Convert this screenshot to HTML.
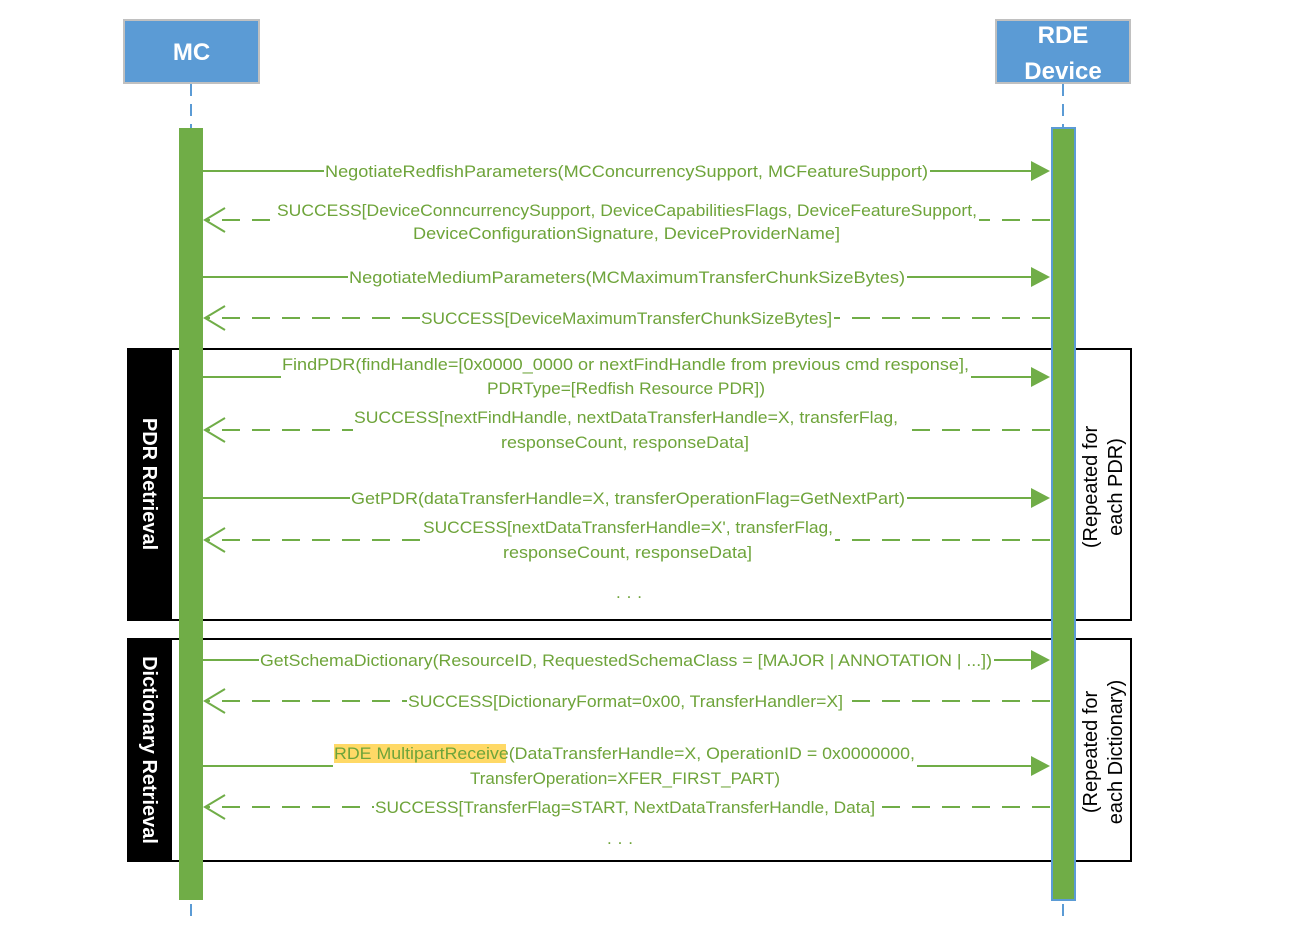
<!DOCTYPE html>
<html><head><meta charset="utf-8"><style>html,body{margin:0;padding:0;background:#fff;}svg{display:block}</style></head>
<body>
<svg width="1306" height="945" viewBox="0 0 1306 945" xmlns="http://www.w3.org/2000/svg" font-family="'Liberation Sans', sans-serif">
<!-- lifelines -->
<line x1="191" y1="84" x2="191" y2="917" stroke="#5b9bd5" stroke-width="2" stroke-dasharray="12,8"/>
<line x1="1063" y1="84" x2="1063" y2="917" stroke="#5b9bd5" stroke-width="2" stroke-dasharray="12,8"/>
<!-- headers -->
<rect x="124" y="20" width="135" height="63" fill="#5b9bd5" stroke="#c0c0c0" stroke-width="2"/>
<text x="191.5" y="60" font-size="24" font-weight="bold" fill="#fff" text-anchor="middle">MC</text>
<rect x="996" y="20" width="134" height="63" fill="#5b9bd5" stroke="#c0c0c0" stroke-width="2"/>
<text x="1063" y="43" font-size="24" font-weight="bold" fill="#fff" text-anchor="middle">RDE</text>
<text x="1063" y="79" font-size="24" font-weight="bold" fill="#fff" text-anchor="middle">Device</text>
<!-- frames -->
<rect x="128" y="349" width="1003" height="271" fill="none" stroke="#000" stroke-width="2"/>
<rect x="128" y="349" width="44" height="271" fill="#000"/>
<text transform="translate(143,484) rotate(90)" font-size="20" font-weight="bold" fill="#fff" text-anchor="middle">PDR Retrieval</text>
<rect x="128" y="639" width="1003" height="222" fill="none" stroke="#000" stroke-width="2"/>
<rect x="128" y="639" width="44" height="222" fill="#000"/>
<text transform="translate(143,750) rotate(90)" font-size="20" font-weight="bold" fill="#fff" text-anchor="middle">Dictionary Retrieval</text>
<!-- bars -->
<rect x="179" y="128" width="24" height="772" fill="#70ad47"/>
<rect x="1052" y="128" width="23" height="772" fill="#70ad47" stroke="#5b9bd5" stroke-width="2"/>
<!-- repeated labels -->
<g font-size="20" fill="#000" text-anchor="middle">
<text transform="translate(1097,487) rotate(-90)">(Repeated for</text>
<text transform="translate(1122,487) rotate(-90)">each PDR)</text>
<text transform="translate(1097,752) rotate(-90)">(Repeated for</text>
<text transform="translate(1122,752) rotate(-90)">each Dictionary)</text>
</g>
<g stroke="#70ad47" stroke-width="2" fill="none">
<!-- solid calls -->
<line x1="203" y1="171" x2="1035" y2="171"/>
<line x1="203" y1="277" x2="1035" y2="277"/>
<line x1="203" y1="377" x2="1035" y2="377"/>
<line x1="203" y1="498" x2="1035" y2="498"/>
<line x1="203" y1="660" x2="1035" y2="660"/>
<line x1="203" y1="766" x2="1035" y2="766"/>
<!-- dashed returns -->
<g stroke-dasharray="18,12">
<line x1="1050" y1="220" x2="205" y2="220"/>
<line x1="1050" y1="318" x2="205" y2="318"/>
<line x1="1050" y1="430" x2="205" y2="430"/>
<line x1="1050" y1="540" x2="205" y2="540"/>
<line x1="1050" y1="701" x2="205" y2="701"/>
<line x1="1050" y1="807" x2="205" y2="807"/>
</g>
<!-- open arrowheads -->
<polyline points="225,208 205,220 225,232"/>
<polyline points="225,306 205,318 225,330"/>
<polyline points="225,418 205,430 225,442"/>
<polyline points="225,528 205,540 225,552"/>
<polyline points="225,689 205,701 225,713"/>
<polyline points="225,795 205,807 225,819"/>
</g>
<g fill="#70ad47">
<polygon points="1031,161 1050,171 1031,181"/>
<polygon points="1031,267 1050,277 1031,287"/>
<polygon points="1031,367 1050,377 1031,387"/>
<polygon points="1031,488 1050,498 1031,508"/>
<polygon points="1031,650 1050,660 1031,670"/>
<polygon points="1031,756 1050,766 1031,776"/>
</g>
<!-- label backgrounds -->
<g fill="#fff">
<rect x="324" y="160" width="606" height="22"/>
<rect x="276" y="198" width="703" height="47"/>
<rect x="348" y="266" width="559" height="22"/>
<rect x="420" y="307" width="414" height="22"/>
<rect x="281" y="352" width="690" height="47"/>
<rect x="353" y="405" width="547" height="48"/>
<rect x="350" y="487" width="557" height="22"/>
<rect x="422" y="515" width="413" height="48"/>
<rect x="259" y="648" width="735" height="24"/>
<rect x="407" y="690" width="438" height="22"/>
<rect x="333" y="741" width="584" height="50"/>
<rect x="374" y="796" width="503" height="22"/>
</g>
<rect x="334" y="744" width="172" height="19" fill="#ffd966"/>
<g font-size="17" fill="#6ea43a" lengthAdjust="spacingAndGlyphs">
<text x="325" y="177" textLength="603" lengthAdjust="spacingAndGlyphs">NegotiateRedfishParameters(MCConcurrencySupport, MCFeatureSupport)</text>
<text x="277" y="216" textLength="700" lengthAdjust="spacingAndGlyphs">SUCCESS[DeviceConncurrencySupport, DeviceCapabilitiesFlags, DeviceFeatureSupport,</text>
<text x="413" y="239" textLength="427" lengthAdjust="spacingAndGlyphs">DeviceConfigurationSignature, DeviceProviderName]</text>
<text x="349" y="283" textLength="556" lengthAdjust="spacingAndGlyphs">NegotiateMediumParameters(MCMaximumTransferChunkSizeBytes)</text>
<text x="421" y="324" textLength="411" lengthAdjust="spacingAndGlyphs">SUCCESS[DeviceMaximumTransferChunkSizeBytes]</text>
<text x="282" y="370" textLength="687" lengthAdjust="spacingAndGlyphs">FindPDR(findHandle=[0x0000_0000 or nextFindHandle from previous cmd response],</text>
<text x="487" y="394" textLength="278" lengthAdjust="spacingAndGlyphs">PDRType=[Redfish Resource PDR])</text>
<text x="354" y="423" textLength="544" lengthAdjust="spacingAndGlyphs">SUCCESS[nextFindHandle, nextDataTransferHandle=X, transferFlag,</text>
<text x="501" y="448" textLength="248" lengthAdjust="spacingAndGlyphs">responseCount, responseData]</text>
<text x="351" y="504" textLength="554" lengthAdjust="spacingAndGlyphs">GetPDR(dataTransferHandle=X, transferOperationFlag=GetNextPart)</text>
<text x="423" y="533" textLength="410" lengthAdjust="spacingAndGlyphs">SUCCESS[nextDataTransferHandle=X', transferFlag,</text>
<text x="503" y="558" textLength="249" lengthAdjust="spacingAndGlyphs">responseCount, responseData]</text>
<text x="616" y="598" textLength="26" lengthAdjust="spacing">...</text>
<text x="260" y="666" textLength="732" lengthAdjust="spacingAndGlyphs">GetSchemaDictionary(ResourceID, RequestedSchemaClass = [MAJOR | ANNOTATION | ...])</text>
<text x="408" y="707" textLength="435" lengthAdjust="spacingAndGlyphs">SUCCESS[DictionaryFormat=0x00, TransferHandler=X]</text>
<text x="334" y="759" textLength="581" lengthAdjust="spacingAndGlyphs">RDE MultipartReceive(DataTransferHandle=X, OperationID = 0x0000000,</text>
<text x="470" y="784" textLength="310" lengthAdjust="spacingAndGlyphs">TransferOperation=XFER_FIRST_PART)</text>
<text x="375" y="813" textLength="500" lengthAdjust="spacingAndGlyphs">SUCCESS[TransferFlag=START, NextDataTransferHandle, Data]</text>
<text x="607" y="844" textLength="26" lengthAdjust="spacing">...</text>
</g>
</svg>
</body></html>
